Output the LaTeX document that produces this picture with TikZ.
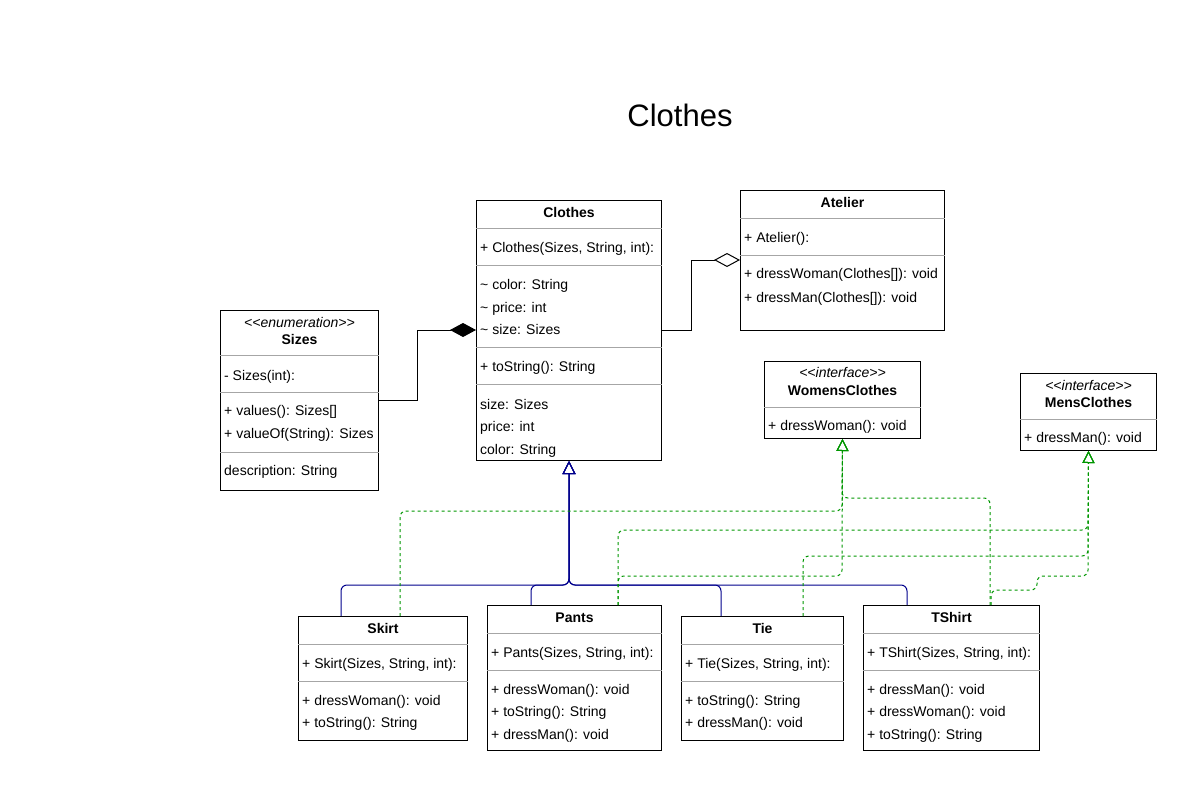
\documentclass[tikz,border=0pt]{standalone}
\usepackage{fontspec}
\setmainfont{Liberation Sans}
\usetikzlibrary{arrows.meta}

\definecolor{umlblue}{RGB}{0,0,140}
\definecolor{umlgreen}{RGB}{0,150,0}

\newcommand\umltextstyle{\fontsize{14}{16}\selectfont}
\newcommand\umltitlestyle{\fontsize{31}{36}\selectfont}
\newcommand\umlbox[5]{
  \node[classbox, minimum width=#4-#2, minimum height=#5-#3, anchor=north west] (#1) at (#2,#3) {} ;
}
\newcommand\umlhead[3]{
  \node[headtext] (#1-head) at (#1.north |- 0,#2) {#3} ;
}
\newcommand\umlstereo[3]{
  \node[stereotext] (#1-stereo) at (#1.north |- 0,#2) {#3} ;
}
\newcommand\umlsep[2]{
  \draw[sepline] (#1.west |- 0,#2) -- (#1.east |- 0,#2) ;
}
\newcommand\umlmember[3]{
  \node[membertext] (#1-#2) at (#1.west |- 0,#2) {#3} ;
}

\tikzset{
  classbox/.style={draw=black, fill=white, line width=1pt, inner sep=0pt},
  headtext/.style={font=\umltextstyle\bfseries, inner sep=0pt, text height=10pt, text depth=3pt, yshift=-1.5pt},
  stereotext/.style={font=\umltextstyle\itshape, inner sep=0pt, text height=10pt, text depth=3pt, yshift=-1.5pt},
  membertext/.style={font=\umltextstyle, anchor=west, inner xsep=4pt, inner ysep=0pt, text height=10pt, text depth=3pt, yshift=-2pt},
  sepline/.style={draw=gray!70, line width=1pt},
  extends/.style={draw=umlblue, line width=1pt, rounded corners=6pt, -{Triangle[open, length=13pt, width=13pt]}},
  implements/.style={draw=umlgreen, line width=1pt, dash pattern=on 3pt off 3pt, rounded corners=6pt, -{Triangle[open, length=12pt, width=12pt]}},
  composed/.style={draw=black, line width=1pt, -{Diamond[length=26pt, width=14pt]}},
  aggregated/.style={draw=black, line width=1pt, -{Diamond[open, length=26pt, width=14pt]}},
}

\begin{document}
\begin{tikzpicture}[x=1pt, y=-1pt]
    \useasboundingbox (0,0) rectangle (1200,800) ;
    \node[font=\umltitlestyle] (title) at (680,115) {Clothes} ;

    \umlbox{sizes}{220}{310}{378}{490}
    \umlstereo{sizes}{322}{<\kern0pt<enumeration>\kern0pt>}
    \umlhead{sizes}{339}{Sizes}
    \umlsep{sizes}{355}
    \umlmember{sizes}{375}{- Sizes(int):}
    \umlsep{sizes}{392}
    \umlmember{sizes}{410}{+ values(): Sizes[]}
    \umlmember{sizes}{433}{+ valueOf(String): Sizes}
    \umlsep{sizes}{452}
    \umlmember{sizes}{470}{description: String}

    \umlbox{clothes}{476}{200}{661}{460}
    \umlhead{clothes}{212}{Clothes}
    \umlsep{clothes}{228}
    \umlmember{clothes}{247}{+ Clothes(Sizes, String, int):}
    \umlsep{clothes}{265}
    \umlmember{clothes}{284}{\textasciitilde{} color: String}
    \umlmember{clothes}{307}{\textasciitilde{} price: int}
    \umlmember{clothes}{329}{\textasciitilde{} size: Sizes}
    \umlsep{clothes}{347}
    \umlmember{clothes}{366}{+ toString(): String}
    \umlsep{clothes}{384}
    \umlmember{clothes}{404}{size: Sizes}
    \umlmember{clothes}{426}{price: int}
    \umlmember{clothes}{449}{color: String}

    \umlbox{atelier}{740}{190}{944}{330}
    \umlhead{atelier}{202}{Atelier}
    \umlsep{atelier}{218}
    \umlmember{atelier}{237}{+ Atelier():}
    \umlsep{atelier}{255}
    \umlmember{atelier}{273}{+ dressWoman(Clothes[]): void}
    \umlmember{atelier}{297}{+ dressMan(Clothes[]): void}

    \umlbox{womens}{764}{361}{920}{438}
    \umlstereo{womens}{372}{<\kern0pt<interface>\kern0pt>}
    \umlhead{womens}{390}{WomensClothes}
    \umlsep{womens}{407}
    \umlmember{womens}{425}{+ dressWoman(): void}

    \umlbox{mens}{1020}{373}{1156}{450}
    \umlstereo{mens}{385}{<\kern0pt<interface>\kern0pt>}
    \umlhead{mens}{402}{MensClothes}
    \umlsep{mens}{419}
    \umlmember{mens}{437}{+ dressMan(): void}

    \umlbox{skirt}{298}{616}{467}{740}
    \umlhead{skirt}{628}{Skirt}
    \umlsep{skirt}{644}
    \umlmember{skirt}{663}{+ Skirt(Sizes, String, int):}
    \umlsep{skirt}{681}
    \umlmember{skirt}{700}{+ dressWoman(): void}
    \umlmember{skirt}{722}{+ toString(): String}

    \umlbox{pants}{487}{605}{661}{750}
    \umlhead{pants}{617}{Pants}
    \umlsep{pants}{633}
    \umlmember{pants}{652}{+ Pants(Sizes, String, int):}
    \umlsep{pants}{670}
    \umlmember{pants}{689}{+ dressWoman(): void}
    \umlmember{pants}{711}{+ toString(): String}
    \umlmember{pants}{734}{+ dressMan(): void}

    \umlbox{tie}{681}{616}{843}{740}
    \umlhead{tie}{628}{Tie}
    \umlsep{tie}{644}
    \umlmember{tie}{663}{+ Tie(Sizes, String, int):}
    \umlsep{tie}{681}
    \umlmember{tie}{700}{+ toString(): String}
    \umlmember{tie}{722}{+ dressMan(): void}

    \umlbox{tshirt}{863}{605}{1039}{750}
    \umlhead{tshirt}{617}{TShirt}
    \umlsep{tshirt}{633}
    \umlmember{tshirt}{652}{+ TShirt(Sizes, String, int):}
    \umlsep{tshirt}{670}
    \umlmember{tshirt}{689}{+ dressMan(): void}
    \umlmember{tshirt}{711}{+ dressWoman(): void}
    \umlmember{tshirt}{734}{+ toString(): String}

    % associations
    \draw[composed] (sizes.east |- 0,400) -- (417,400) -- (417,330) -- (clothes.west |- 0,330) ;
    \draw[aggregated] (clothes.east |- 0,330) -- (691,330) -- (691,260) -- (atelier.west |- 0,260) ;

    % inheritance
    \draw[extends] (skirt.north -| 341,0) -- (341,585) -- (569,585) -- (clothes.south) ;
    \draw[extends] (pants.north -| 531,0) -- (531,585) -- (569,585) -- (clothes.south) ;
    \draw[extends] (tie.north -| 721,0) -- (721,585) -- (569,585) -- (clothes.south) ;
    \draw[extends] (tshirt.north -| 907,0) -- (907,585) -- (569,585) -- (clothes.south) ;

    % interfaces
    \draw[implements] (skirt.north -| 400,0) -- (400,511) -- (842,511) -- (womens.south) ;
    \draw[implements] (pants.north -| 618,0) -- (618,576) -- (842,576) -- (womens.south) ;
    \draw[implements] (tshirt.north -| 990,0) -- (990,498) -- (842,498) -- (womens.south) ;
    \draw[implements] (pants.north -| 618,0) -- (618,530) -- (1088,530) -- (mens.south) ;
    \draw[implements] (tie.north -| 803,0) -- (803,556) -- (1088,556) -- (mens.south) ;
    \draw[implements] (tshirt.north -| 991,0) -- (991,590) -- (1037,590) -- (1037,576) -- (1088,576) -- (mens.south) ;
\end{tikzpicture}
\end{document}
